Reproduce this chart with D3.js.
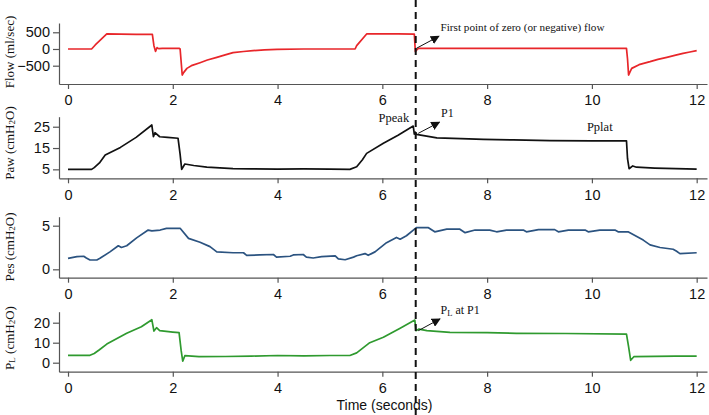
<!DOCTYPE html>
<html><head><meta charset="utf-8">
<script src="https://cdn.jsdelivr.net/npm/d3@7"></script>
<style>
html,body{margin:0;padding:0;background:#fff;}
svg{display:block;}
</style></head>
<body>
<svg id="chart" width="709" height="415"></svg>
<script>
// ---------- DATA ----------
const timeTicks = [0, 2, 4, 6, 8, 10, 12];

const flowT = [0, 0.45, 0.52, 0.74, 1.0, 1.3, 1.61, 1.64, 1.67, 1.70, 1.73, 1.8, 2.12, 2.14, 2.18, 2.21, 2.27, 2.37, 2.52, 2.66, 2.84, 3.0, 3.15, 3.35, 3.53, 3.75, 3.99, 4.5, 5.0, 5.48, 5.51, 5.70, 6.0, 6.3, 6.61, 6.63, 6.66, 6.69, 7.0, 8.0, 9.0, 10.0, 10.66, 10.68, 10.70, 10.73, 10.76, 10.9, 11.11, 11.26, 11.43, 11.6, 11.74, 11.87, 12.0];
const flowV = [0, 0, 120, 450, 445, 440, 435, 100, -70, 40, 10, 20, 20, 0, -780, -700, -580, -490, -410, -330, -250, -175, -110, -75, -50, -28, -10, 0, 0, 0, 100, 450, 450, 450, 445, -80, -20, 20, 20, 20, 20, 20, 20, -300, -780, -680, -580, -470, -380, -310, -250, -185, -130, -90, -50];
const flowTicks = [-500, 0, 500];

const pawT = [0, 0.45, 0.5, 0.6, 0.71, 1.0, 1.3, 1.6, 1.63, 1.66, 1.75, 1.9, 2.1, 2.14, 2.17, 2.23, 2.4, 2.65, 3.15, 3.5, 4.0, 4.5, 5.0, 5.38, 5.51, 5.62, 5.70, 6.02, 6.3, 6.59, 6.61, 6.63, 6.65, 7.04, 7.5, 7.93, 8.5, 9.2, 10.0, 10.66, 10.68, 10.71, 10.78, 10.85, 11.2, 11.6, 12.0];
const pawV = [5, 5, 5.8, 8, 11.7, 15.3, 20, 25.8, 20.3, 22.2, 20.3, 20, 19.6, 12, 5, 7.5, 6.8, 6, 5.3, 5.2, 5.1, 5.2, 5.1, 5.0, 6.2, 9.5, 12.5, 17.2, 21, 25.3, 21.5, 22.4, 21.4, 19.8, 19.4, 19.1, 18.8, 18.5, 18.4, 18.4, 10, 5.3, 6.6, 6.0, 5.6, 5.3, 5.1];
const pawTicks = [5, 15, 25];

const pesT = [0, 0.17, 0.3, 0.35, 0.42, 0.55, 0.61, 0.8, 0.96, 1.02, 1.12, 1.31, 1.53, 1.6, 1.76, 1.88, 2.14, 2.3, 2.52, 2.71, 2.84, 3.15, 3.35, 3.41, 3.66, 3.92, 3.98, 4.24, 4.3, 4.49, 4.55, 4.68, 4.84, 5.1, 5.16, 5.29, 5.45, 5.51, 5.67, 5.73, 5.86, 6.08, 6.27, 6.34, 6.46, 6.65, 6.88, 7.0, 7.23, 7.48, 7.58, 7.77, 8.05, 8.18, 8.37, 8.69, 8.75, 8.98, 9.29, 9.36, 9.55, 9.87, 9.93, 10.15, 10.44, 10.5, 10.69, 10.98, 11.11, 11.3, 11.55, 11.61, 11.68, 12.0];
const pesV = [1.26, 1.45, 1.5, 1.3, 1.07, 1.07, 1.26, 2.0, 2.7, 2.5, 2.7, 3.6, 4.5, 4.4, 4.5, 4.7, 4.7, 3.55, 3.1, 2.6, 2.0, 1.9, 1.9, 1.6, 1.65, 1.7, 1.4, 1.5, 1.65, 1.7, 1.4, 1.3, 1.45, 1.55, 1.2, 1.1, 1.4, 1.55, 1.8, 1.6, 2.0, 3.05, 3.65, 3.45, 3.85, 4.77, 4.77, 4.3, 4.6, 4.6, 4.2, 4.5, 4.5, 4.3, 4.5, 4.5, 4.3, 4.55, 4.55, 4.3, 4.5, 4.5, 4.3, 4.5, 4.5, 4.3, 4.3, 3.35, 2.8, 2.5, 2.3, 2.1, 1.8, 1.9];
const pesTicks = [0, 5];

const plT = [0, 0.42, 0.5, 0.6, 0.74, 1.12, 1.4, 1.6, 1.64, 1.69, 1.75, 2.0, 2.12, 2.16, 2.19, 2.23, 2.5, 3.0, 3.5, 4.0, 4.5, 5.0, 5.38, 5.51, 5.76, 6.02, 6.34, 6.62, 6.64, 6.7, 6.85, 7.29, 8.0, 8.56, 9.5, 10.66, 10.70, 10.74, 10.8, 11.2, 11.6, 12.0];
const plV = [3.7, 3.7, 4.6, 6.5, 9.3, 14.7, 18, 21.5, 15.8, 17.5, 16, 15.3, 15, 6, 0.8, 3.5, 3, 3.1, 3.3, 3.6, 3.4, 3.6, 3.6, 4.9, 10, 12.7, 17.2, 21.3, 16, 16.8, 16, 15.2, 15, 14.7, 14.6, 14.3, 8, 1.2, 3, 3.2, 3.3, 3.3];
const plTicks = [0, 10, 20];

const markerTime = 6.637;

// ---------- CHART ----------
const svg = d3.select("#chart");
const x = d3.scaleLinear().domain([-0.172, 12.197]).range([59, 707]);

const panels = [
  {t: flowT, v: flowV, ticks: flowTicks, domain: [-1048, 778], top: 23, bottom: 84, color: "#e8262a", title: [["Flow (ml/sec)", null]], tcy: 52},
  {t: pawT, v: pawV, ticks: pawTicks, domain: [0.8, 29.7], top: 116.7, bottom: 178.3, color: "#111", title: [["Paw (cmH", null], ["2", "sub"], ["O)", "back"]], tcy: 143},
  {t: pesT, v: pesV, ticks: pesTicks, domain: [-0.96, 6.03], top: 216.7, bottom: 277.7, color: "#2b5380", title: [["Pes (cmH", null], ["2", "sub"], ["O)", "back"]], tcy: 247},
  {t: plT, v: plV, ticks: plTicks, domain: [-4.5, 25.5], top: 311.7, bottom: 371.7, color: "#2f9a2f", title: [["P", null], ["L", "sub"], [" (cmH", "back"], ["2", "sub"], ["O)", "back"]], tcy: 338}
];

panels.forEach(p => {
  const y = d3.scaleLinear().domain(p.domain).range([p.bottom, p.top]);
  p.y = y;
  const g = svg.append("g");
  const xa = g.append("g").attr("transform", `translate(0,${p.bottom})`)
    .call(d3.axisBottom(x).tickValues(timeTicks).tickFormat(d3.format("d")).tickSize(5).tickSizeOuter(0).tickPadding(6));
  const ya = g.append("g").attr("transform", `translate(59,0)`)
    .call(d3.axisLeft(y).tickValues(p.ticks).tickFormat(d3.format("d")).tickSize(6).tickSizeOuter(0).tickPadding(3));
  [xa, ya].forEach(a => {
    a.select(".domain").attr("stroke", "#555").attr("stroke-width", 1.2);
    a.selectAll(".tick line").attr("stroke", "#555").attr("stroke-width", 1.2);
    a.selectAll(".tick text").attr("fill", "#111").style("font-family", "'Liberation Sans', Arial, sans-serif").style("font-size", "14.5px");
  });
  const data = p.t.map((t, i) => [t, p.v[i]]);
  g.append("path").datum(data)
    .attr("fill", "none").attr("stroke", p.color).attr("stroke-width", 1.7).attr("stroke-linejoin", "round")
    .attr("d", d3.line().x(d => x(d[0])).y(d => y(d[1])));
  // y title
  const txt = g.append("text")
    .attr("transform", `translate(9,${p.tcy}) rotate(-90)`)
    .attr("text-anchor", "middle").attr("dominant-baseline", "central")
    .style("font-family", "'Liberation Serif', 'Times New Roman', serif").style("font-size", "13px").attr("fill", "#111");
  p.title.forEach(([s, k]) => {
    const ts = txt.append("tspan").text(s);
    if (k === "sub") ts.attr("dy", 3).style("font-size", "9px");
    if (k === "back") ts.attr("dy", -3);
  });
});

// marker dashed line
svg.append("line").attr("x1", x(markerTime)).attr("x2", x(markerTime)).attr("y1", 0).attr("y2", 415)
  .attr("stroke", "#111").attr("stroke-width", 2).attr("stroke-dasharray", "7,5");

// arrowheads
svg.append("defs").append("marker").attr("id", "arr").attr("viewBox", "0 0 10 10")
  .attr("refX", 9).attr("refY", 5).attr("markerWidth", 9).attr("markerHeight", 9)
  .attr("markerUnits", "userSpaceOnUse").attr("orient", "auto")
  .append("path").attr("d", "M0,0L10,5L0,10Z").attr("fill", "#111");

const serif = "'Liberation Serif', 'Times New Roman', serif";
function arrow(p, t0, v0, t1, v1) {
  svg.append("line").attr("x1", x(t0)).attr("y1", p.y(v0)).attr("x2", x(t1)).attr("y2", p.y(v1))
    .attr("stroke", "#111").attr("stroke-width", 1).attr("marker-end", "url(#arr)");
}
function label(p, t, v, s, anchor, size) {
  return svg.append("text").attr("x", x(t)).attr("y", p.y(v)).attr("text-anchor", anchor)
    .attr("dominant-baseline", "central").style("font-family", serif).style("font-size", size).attr("fill", "#111").text(s);
}
const [pf, pp, pe, pl] = panels;
arrow(pf, 6.65, 20, 7.08, 380);
label(pf, 7.11, 650, "First point of zero (or negative) flow", "start", "11.2px");
arrow(pp, 6.686, 21.9, 7.09, 27.1);
label(pp, 6.22, 28.9, "Ppeak", "middle", "12.5px");
label(pp, 7.12, 31.3, "P1", "start", "12px");
label(pp, 10.15, 24.9, "Pplat", "middle", "12.5px");
arrow(pl, 6.686, 16, 7.1, 21.9);
const plLab = label(pl, 7.11, 26.3, "", "start", "12px");
plLab.append("tspan").text("P");
plLab.append("tspan").text("L").attr("dy", 3).style("font-size", "8.5px");
plLab.append("tspan").text(" at P1").attr("dy", -3);

// x title
svg.append("text").attr("x", 384.5).attr("y", 405).attr("text-anchor", "middle").attr("dominant-baseline", "central")
  .style("font-family", "'Liberation Sans', Arial, sans-serif").style("font-size", "14px").attr("fill", "#111").text("Time (seconds)");
</script>
</body></html>
